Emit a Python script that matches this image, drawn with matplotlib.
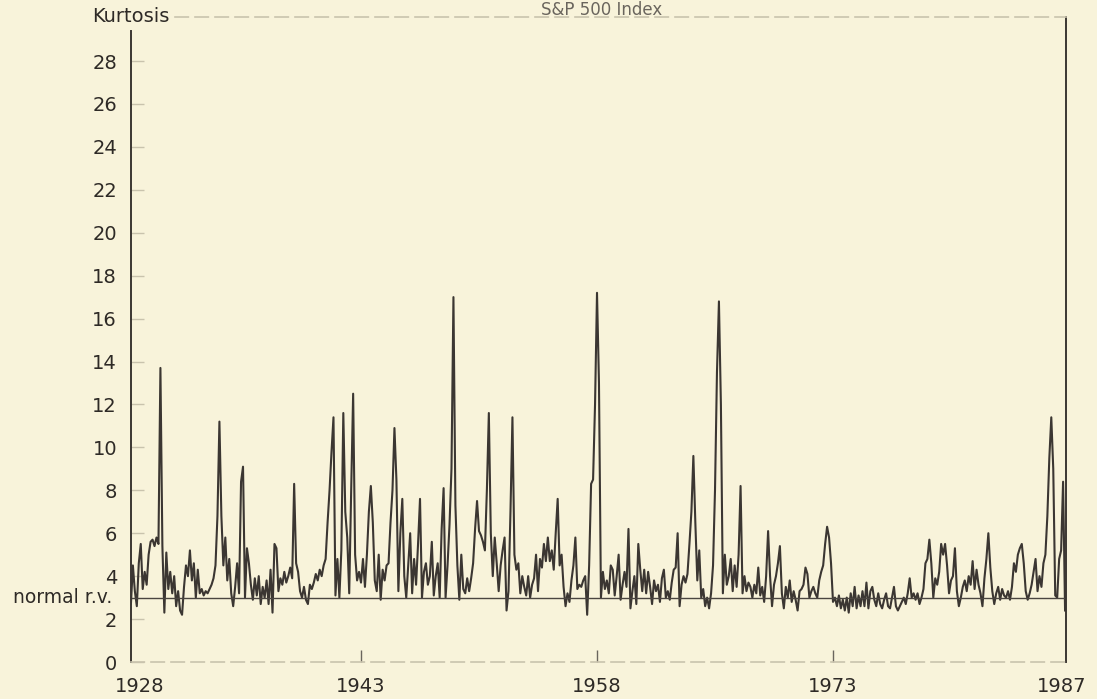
import matplotlib.pyplot as plt
import numpy as np

plt.rcParams['font.family'] = ['DejaVu Sans']

# kurtosis, 8 values per year (1928.0 ... 1987.75)
kurtosis = [
    3.0, 2.8, 3.2, 2.7, 4.5, 3.3, 2.6, 4.6,     # 1928
    5.5, 3.4, 4.2, 3.6, 5.0, 5.6, 5.7, 5.4,     # 1929
    5.8, 5.5, 13.7, 5.4, 2.3, 5.1, 3.4, 4.2,    # 1930
    3.2, 4.0, 2.6, 3.3, 2.4, 2.2, 3.5, 4.5,     # 1931
    4.0, 5.2, 3.8, 4.6, 3.0, 4.3, 3.2, 3.4,     # 1932
    3.1, 3.3, 3.2, 3.4, 3.6, 3.9, 4.5, 6.8,     # 1933
    11.2, 6.8, 4.5, 5.8, 3.8, 4.8, 3.2, 2.6,    # 1934
    3.5, 4.6, 3.2, 8.4, 9.1, 3.0, 5.3, 4.6,     # 1935
    3.6, 2.9, 3.9, 3.1, 4.0, 2.7, 3.5, 3.0,     # 1936
    3.8, 2.7, 4.3, 2.3, 5.5, 5.3, 3.3, 3.9,     # 1937
    3.6, 4.2, 3.7, 4.0, 4.4, 3.9, 8.3, 4.6,     # 1938
    4.2, 3.3, 3.0, 3.5, 2.9, 2.7, 3.6, 3.4,     # 1939
    3.7, 4.1, 3.8, 4.3, 4.0, 4.5, 4.8, 6.5,     # 1940
    8.0, 9.8, 11.4, 3.1, 4.8, 3.0, 5.2, 11.6,   # 1941
    7.0, 5.8, 3.2, 8.0, 12.5, 5.0, 3.8, 4.2,    # 1942
    3.7, 4.8, 3.5, 5.0, 7.0, 8.2, 6.5, 3.8,     # 1943
    3.3, 5.0, 2.9, 4.3, 3.8, 4.5, 4.6, 6.5,     # 1944
    8.0, 10.9, 8.5, 3.3, 6.0, 7.6, 4.0, 3.0,    # 1945
    4.5, 6.0, 3.2, 4.8, 3.6, 5.5, 7.6, 3.0,     # 1946
    4.2, 4.6, 3.6, 4.0, 5.6, 3.1, 4.0, 4.6,     # 1947
    3.0, 6.2, 8.1, 3.0, 4.5, 6.4, 9.0, 17.0,    # 1948
    7.3, 4.5, 2.9, 5.0, 3.4, 3.2, 3.9, 3.3,     # 1949
    3.9, 4.6, 6.2, 7.5, 6.1, 5.9, 5.6, 5.2,     # 1950
    8.0, 11.6, 6.0, 4.0, 5.8, 4.6, 3.3, 4.5,    # 1951
    5.2, 5.8, 2.4, 3.3, 7.0, 11.4, 5.0, 4.3,    # 1952
    4.6, 3.2, 4.0, 3.5, 3.1, 4.0, 3.0, 3.6,     # 1953
    3.9, 5.0, 3.3, 4.8, 4.4, 5.5, 4.7, 5.8,     # 1954
    4.7, 5.2, 4.3, 6.0, 7.6, 4.5, 5.0, 3.5,     # 1955
    2.6, 3.2, 2.8, 3.8, 4.5, 5.8, 3.4, 3.6,     # 1956
    3.5, 3.8, 4.0, 2.2, 4.5, 8.3, 8.5, 12.0,    # 1957
    17.2, 13.0, 3.0, 4.2, 3.4, 3.8, 3.2, 4.5,   # 1958
    4.3, 3.1, 4.0, 5.0, 2.9, 3.6, 4.2, 3.5,     # 1959
    6.2, 2.5, 3.3, 4.0, 2.7, 5.5, 4.3, 3.3,     # 1960
    4.3, 3.2, 4.2, 3.5, 2.7, 3.8, 3.3, 3.6,     # 1961
    2.8, 3.9, 4.3, 3.0, 3.3, 2.9, 3.7, 4.3,     # 1962
    4.4, 6.0, 2.6, 3.6, 4.0, 3.7, 4.1, 5.5,     # 1963
    7.0, 9.6, 6.5, 3.8, 5.2, 3.0, 3.4, 2.6,     # 1964
    3.0, 2.5, 3.2, 4.5, 8.0, 13.5, 16.8, 12.0,  # 1965
    3.2, 5.0, 3.6, 4.0, 4.8, 3.3, 4.5, 3.5,     # 1966
    5.0, 8.2, 3.2, 4.0, 3.3, 3.7, 3.5, 3.0,     # 1967
    3.6, 3.2, 4.4, 3.1, 3.5, 2.8, 4.0, 6.1,     # 1968
    4.0, 2.6, 3.6, 4.0, 4.6, 5.4, 3.2, 2.5,     # 1969
    3.5, 3.0, 3.8, 2.8, 3.3, 2.9, 2.4, 3.3,     # 1970
    3.4, 3.6, 4.4, 4.1, 3.0, 3.3, 3.5, 3.2,     # 1971
    3.0, 3.8, 4.2, 4.5, 5.5, 6.3, 5.8, 4.6,     # 1972
    2.8, 3.0, 2.6, 3.1, 2.5, 2.9, 2.4, 3.0,     # 1973
    2.3, 3.2, 2.6, 3.5, 2.5, 3.1, 2.6, 3.3,     # 1974
    2.6, 3.7, 2.5, 3.3, 3.5, 2.9, 2.6, 3.2,     # 1975
    2.7, 2.5, 2.9, 3.2, 2.6, 2.5, 3.0, 3.5,     # 1976
    2.6, 2.4, 2.6, 2.8, 3.0, 2.7, 3.2, 3.9,     # 1977
    3.0, 3.2, 2.9, 3.2, 2.7, 3.0, 3.4, 4.6,     # 1978
    4.8, 5.7, 4.6, 3.0, 3.9, 3.6, 4.2, 5.5,     # 1979
    5.0, 5.5, 4.5, 3.2, 3.8, 4.0, 5.3, 3.3,     # 1980
    2.6, 3.0, 3.5, 3.8, 3.3, 4.0, 3.6, 4.7,     # 1981
    3.4, 4.3, 3.6, 3.2, 2.6, 3.9, 4.8, 6.0,     # 1982
    4.4, 3.3, 2.7, 3.2, 3.5, 2.9, 3.4, 3.1,     # 1983
    3.0, 3.3, 2.9, 3.5, 4.6, 4.2, 5.0, 5.3,     # 1984
    5.5, 4.6, 3.3, 2.9, 3.2, 3.6, 4.2, 4.8,     # 1985
    3.3, 4.0, 3.5, 4.6, 5.0, 6.8, 9.5, 11.4,    # 1986
    9.0, 3.1, 3.0, 4.8, 5.2, 8.4, 2.4,          # 1987
]
start_year = 1928
per_year = 8
normal_kurtosis = 3

year_ticks = [1943, 1958, 1973]
edge_ticks = [1928.95, 1987.55]
edge_labels = ['1928', '1987']
y_ticks = np.arange(0, 30, 2)

bg = '#f8f3da'
ink = '#3b3632'
text_ink = '#2e2a26'
pale = '#c9c3ad'

years = start_year + np.arange(len(kurtosis)) / per_year

fig = plt.figure(figsize=(10.97, 6.99), dpi=100, facecolor=bg)
ax = fig.add_axes([131/1097, 1 - 662/699, 935/1097, 645/699])
ax.set_facecolor(bg)

ax.plot(years, kurtosis, color=ink, linewidth=1.5)
ax.axhline(normal_kurtosis, color='#4a4540', linewidth=1.0)

ax.set_xlim(1928.38, 1987.81)
ax.set_ylim(0, 30.05)

ax.set_xticks(year_ticks)
ax.set_xticklabels([str(y) for y in year_ticks])
ax.set_xticks(edge_ticks, minor=True)
ax.set_xticklabels(edge_labels, minor=True)
ax.tick_params(axis='x', which='major', direction='in', length=9, width=1,
               color='#6a655d', labelsize=14, pad=11, labelcolor=text_ink)
ax.tick_params(axis='x', which='minor', length=0, labelsize=14, pad=11,
               labelcolor=text_ink)

ax.set_yticks(y_ticks)
ax.tick_params(axis='y', direction='in', length=9, width=1, color=pale,
               labelsize=14, pad=10, labelcolor=text_ink)

for side in ['left', 'right']:
    ax.spines[side].set_color(ink)
    ax.spines[side].set_linewidth(1.4)
ax.spines['left'].set_bounds(0, 29.4)
for side in ['top', 'bottom']:
    ax.spines[side].set_color(pale)
    ax.spines[side].set_linewidth(1.2)
    ax.spines[side].set_linestyle((0, (8, 4)))
ax.spines['top'].set_bounds(1931.2, 1987.81)

ax.text(-0.02, normal_kurtosis, 'normal r.v.', transform=ax.get_yaxis_transform(),
        ha='right', va='center', fontsize=13.5, color=text_ink)
fig.text(170/1097, 1 - 17/699, 'Kurtosis', ha='right', va='center',
         fontsize=14, color=text_ink)
fig.text(602/1097, 1 - 1/699, 'S&P 500 Index', ha='center', va='top',
         fontsize=12, color='#6a655d')

fig.savefig('out.png', dpi=100, facecolor=bg)
